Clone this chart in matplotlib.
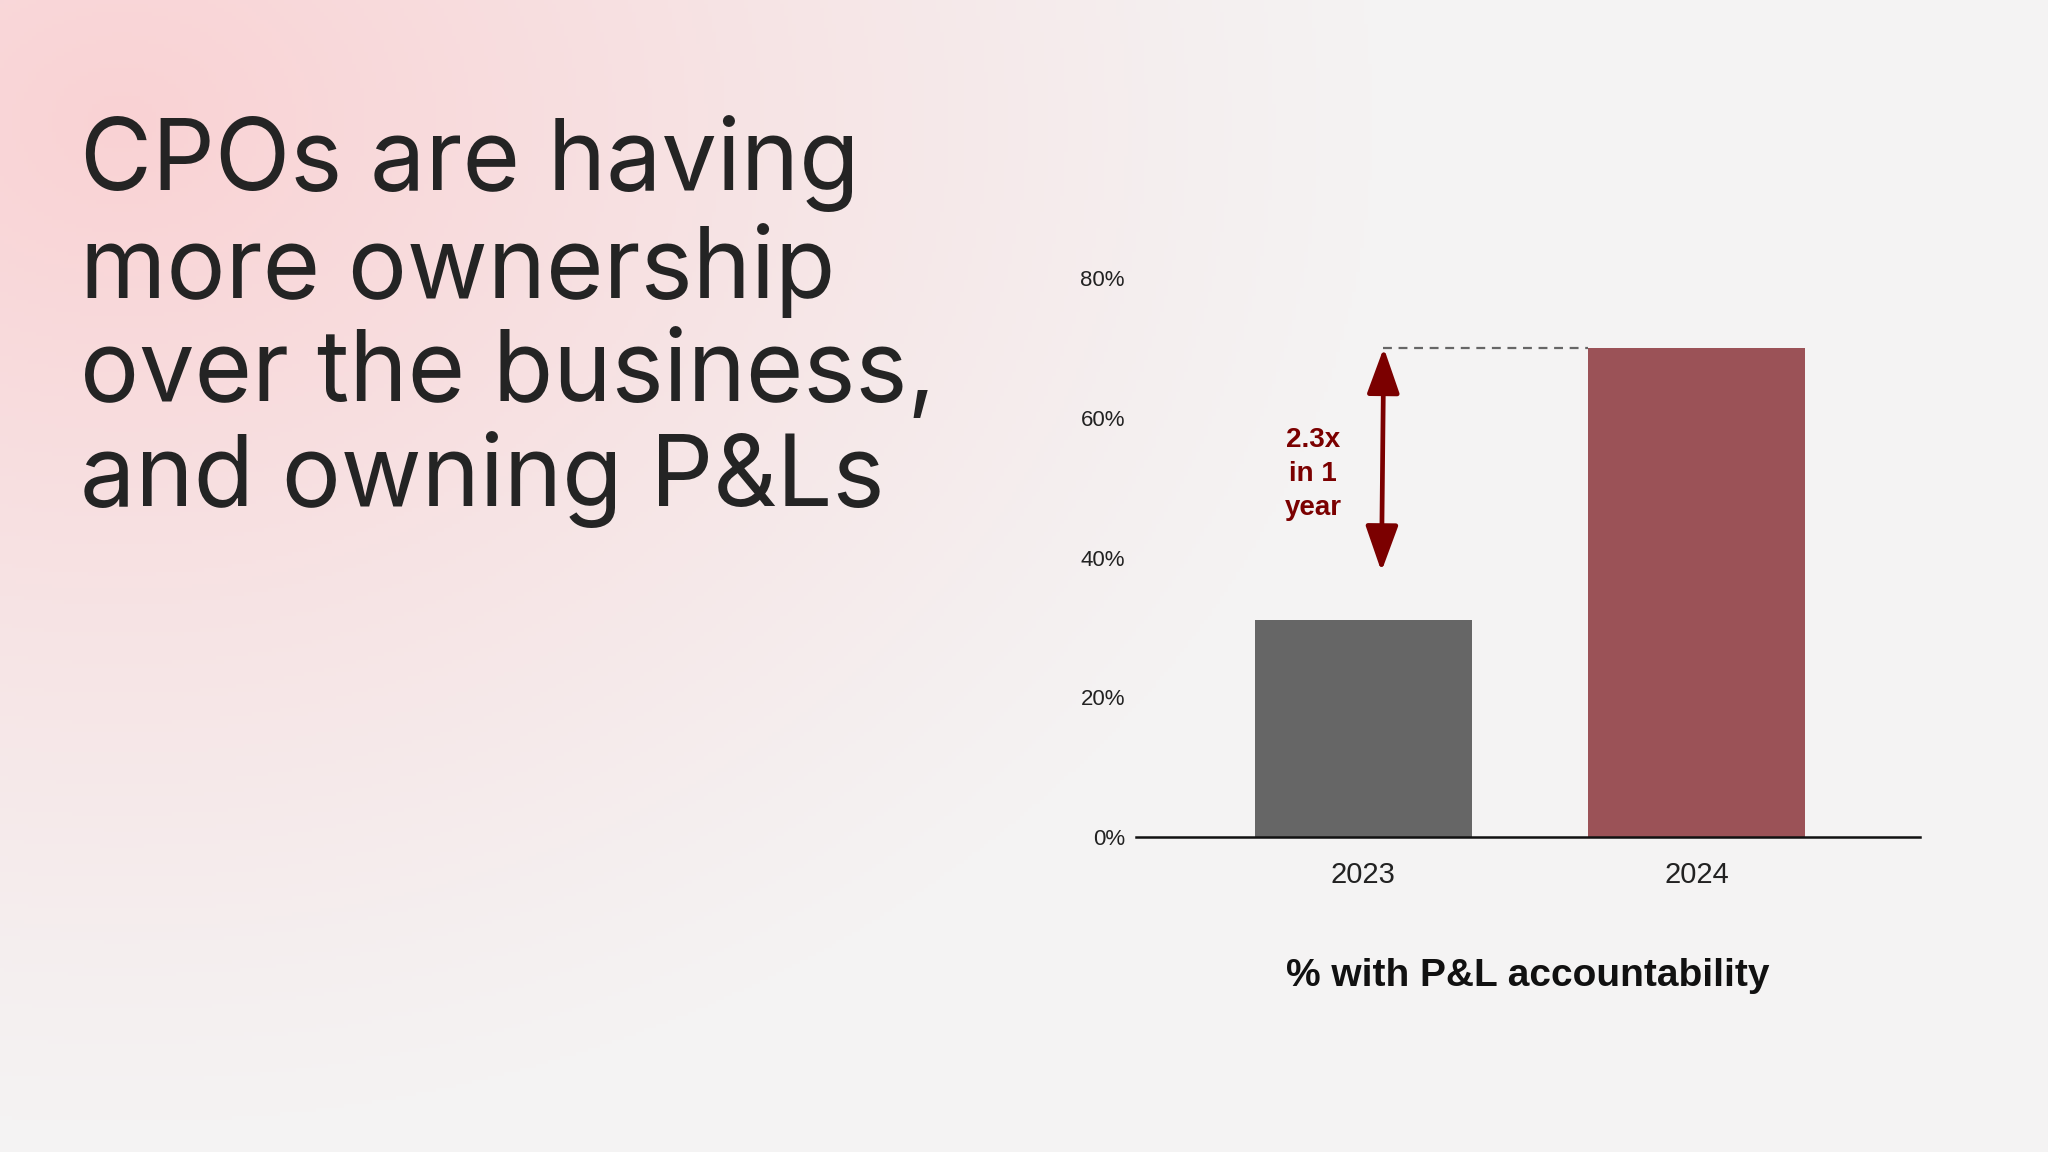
import matplotlib.pyplot as plt
import numpy as np
from matplotlib.patches import FancyArrowPatch

# data
years = ["2023", "2024"]
pl_share = [31, 70]          # % with P&L accountability
ticks = [0, 20, 40, 60, 80]
tick_labels = ["0%", "20%", "40%", "60%", "80%"]
growth_label = "2.3x\nin 1\nyear"
arrow_from, arrow_to = 70, 38
headline = "CPOs are having\nmore ownership\nover the business,\nand owning P&Ls"
xlabel = "% with P&L accountability"

W, H = 2048, 1152
fig = plt.figure(figsize=(W / 100, H / 100), dpi=100)

# soft pink glow in the top-left, fading to light grey
bg = fig.add_axes([0, 0, 1, 1])
yy, xx = np.mgrid[0:H:4, 0:W:4]
d = np.sqrt(((xx - 120) / 1250.0) ** 2 + ((yy - 120) / 1000.0) ** 2)
t = np.clip(1 - d, 0, 1) ** 1.1
pink = np.array([250, 210, 212]) / 255
grey = np.array([244, 243, 243]) / 255
img = grey + (pink - grey) * t[..., None]
bg.imshow(img, extent=[0, 1, 0, 1], aspect="auto", origin="upper")
bg.axis("off")

fig.text(0.039, 0.90, headline, fontsize=71, family=["Inter", "DejaVu Sans"],
         color="#242424", va="top", ha="left", linespacing=1.145)

ax = fig.add_axes([0.5547, 0.2734, 0.3828, 0.4853])
ax.patch.set_alpha(0)
x = np.arange(len(years))
ax.bar(x, pl_share, width=0.65, color=["#666666", "#9b5257"], zorder=2)
ax.set_xlim(-0.68, 1.668)
ax.set_ylim(0, 80)
ax.set_yticks(ticks)
ax.set_yticklabels(tick_labels, fontsize=16, family="Liberation Sans", color="#222222")
ax.set_xticks(x)
ax.set_xticklabels(years, fontsize=21, family="Liberation Sans", color="#222222")
ax.tick_params(axis="y", length=0, pad=8)
ax.tick_params(axis="x", length=0, pad=17)
for s in ["top", "right", "left"]:
    ax.spines[s].set_visible(False)
ax.spines["bottom"].set_linewidth(1.8)
ax.spines["bottom"].set_color("#111111")
ax.set_xlabel(xlabel, fontsize=28, fontweight="bold", family="Liberation Sans",
              labelpad=50, color="#111111")

# dashed guide from arrow to 2024 bar top
ax.plot([0.06, 1 - 0.325], [pl_share[1], pl_share[1]], ls=(0, (4, 3)),
        color="#666666", lw=1.6, zorder=1)
arr = FancyArrowPatch((0.055, arrow_to), (0.062, arrow_from),
                      arrowstyle="<|-|>,head_length=1.4,head_width=0.5",
                      color="#7b0000", lw=3.4, mutation_scale=20, shrinkA=0, shrinkB=0,
                      zorder=3)
ax.add_patch(arr)
ax.text(-0.15, 52, growth_label, fontsize=20, fontweight="bold", family="Liberation Sans",
        color="#7b0000", ha="center", va="center", linespacing=1.4)

fig.savefig("out.png", dpi=100)
